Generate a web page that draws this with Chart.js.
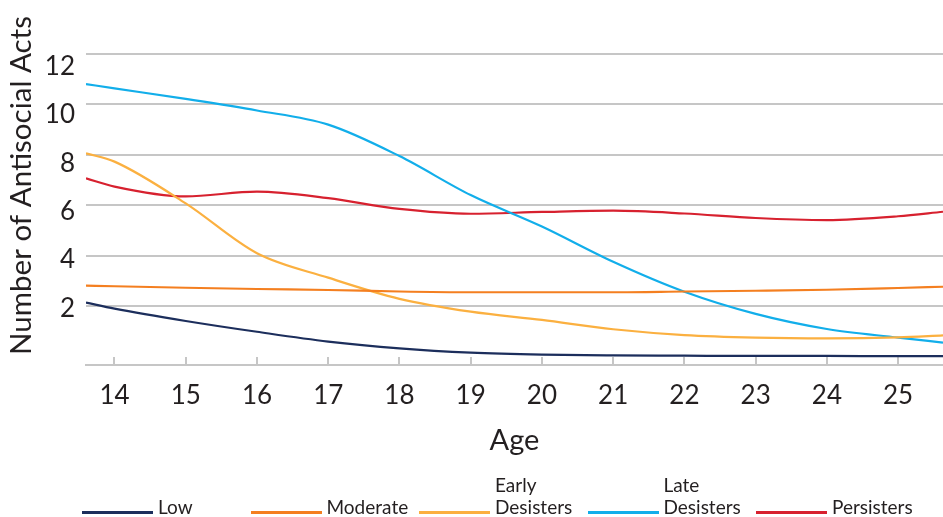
<!DOCTYPE html>
<html>
<head>
<meta charset="utf-8">
<script src="https://cdn.jsdelivr.net/npm/chart.js@4.4.1/dist/chart.umd.min.js"></script>
<style>
  html, body { margin: 0; padding: 0; background: #ffffff; overflow: hidden; }
  #wrap { position: relative; width: 943px; height: 517px; }
  #chart { position: absolute; left: 0; top: 0; }
  .lg-item { position: absolute; bottom: -1px; display: flex; align-items: flex-end; }
  .lg-line { width: 71px; height: 3px; margin-bottom: 4px; flex: none; }
  .lg-text { font-family: Lato, "Noto Sans", sans-serif; font-size: 19px; line-height: 22px; color: #231f20; margin-left: 5px; max-width: 92px; }
</style>
</head>
<body>
<div id="wrap">
  <canvas id="chart" width="943" height="517"></canvas>
  <div id="legend"></div>
</div>
<script>
// ---- data ----
const ages = [13.6, 14, 15, 16, 17, 18, 19, 20, 21, 22, 23, 24, 25, 25.63];
const seriesNames = ['Low', 'Moderate', 'Early Desisters', 'Late Desisters', 'Persisters'];
const lowValues        = [2.13, 1.89, 1.40, 0.97, 0.58, 0.31, 0.14, 0.06, 0.03, 0.02, 0.01, 0.01, 0.00, 0.00];
const moderateValues   = [2.80, 2.78, 2.72, 2.67, 2.63, 2.57, 2.54, 2.54, 2.54, 2.57, 2.60, 2.64, 2.71, 2.76];
const earlyDesValues   = [8.06, 7.73, 6.07, 4.09, 3.12, 2.28, 1.77, 1.44, 1.07, 0.84, 0.74, 0.71, 0.75, 0.83];
const lateDesValues    = [10.81, 10.64, 10.22, 9.76, 9.20, 7.95, 6.40, 5.15, 3.75, 2.56, 1.68, 1.08, 0.74, 0.54];
const persistersValues = [7.07, 6.74, 6.35, 6.54, 6.28, 5.85, 5.66, 5.73, 5.78, 5.67, 5.49, 5.41, 5.56, 5.74];
const xTickLabels = [14, 15, 16, 17, 18, 19, 20, 21, 22, 23, 24, 25];
const yTickLabels = [2, 4, 6, 8, 10, 12];
const xTitle = 'Age';
const yTitle = 'Number of Antisocial Acts';

const seriesValues = [lowValues, moderateValues, earlyDesValues, lateDesValues, persistersValues];
const seriesColors = ['#1c2e5c', '#f47f20', '#fbb040', '#12aeea', '#d7212f'];
const gridColor = '#c6c6c6';
const textColor = '#231f20';
const fontFamily = 'Lato, "Noto Sans", sans-serif';

const datasets = seriesNames.map((name, i) => ({
  label: name,
  data: ages.map((a, j) => ({ x: a, y: seriesValues[i][j] })),
  borderColor: seriesColors[i],
  backgroundColor: seriesColors[i],
  borderWidth: 2.2,
  pointRadius: 0,
  fill: false,
  cubicInterpolationMode: 'monotone'
}));

const innerTicks = {
  id: 'innerTicks',
  beforeDatasetsDraw(chart) {
    const { ctx, chartArea, scales } = chart;
    const x = scales.x;
    ctx.save();
    ctx.strokeStyle = gridColor;
    ctx.lineWidth = 2;
    x.ticks.forEach(t => {
      const px = Math.round(x.getPixelForValue(t.value));
      ctx.beginPath();
      ctx.moveTo(px, chartArea.bottom);
      ctx.lineTo(px, chartArea.bottom - 8);
      ctx.stroke();
    });
    ctx.restore();
  }
};

const noPadV = s => { s.paddingTop = 0; s.paddingBottom = 0; };
const noPadH = s => { s.paddingLeft = 0; s.paddingRight = 0; };

const chart = new Chart(document.getElementById('chart'), {
  type: 'line',
  data: { datasets },
  plugins: [innerTicks],
  options: {
    responsive: false,
    animation: false,
    events: [],
    layout: { padding: { top: 6, bottom: 52, left: 0, right: 0 } },
    plugins: { legend: { display: false }, tooltip: { enabled: false } },
    scales: {
      x: {
        type: 'linear',
        min: 13.6,
        max: 25.63,
        afterBuildTicks: s => { s.ticks = xTickLabels.map(v => ({ value: v })); },
        afterFit: s => { s.height = 100; noPadH(s); },
        grid: { display: false },
        border: { display: true, color: gridColor, width: 2 },
        ticks: {
          color: textColor,
          padding: 7,
          maxRotation: 0,
          autoSkip: false,
          font: { family: fontFamily, size: 26 },
          callback: v => String(v)
        },
        title: {
          display: true,
          text: xTitle,
          color: textColor,
          font: { family: fontFamily, size: 29 },
          padding: { top: 0, bottom: 7 }
        }
      },
      y: {
        type: 'linear',
        position: 'left',
        min: -0.3496,
        max: 13.913,
        afterBuildTicks: s => { s.ticks = yTickLabels.map(v => ({ value: v })); },
        afterFit: s => { s.width = 0; noPadV(s); },
        grid: { color: gridColor, lineWidth: 2, drawTicks: false },
        border: { display: false },
        ticks: { display: false }
      },
      yLabels: {
        type: 'linear',
        position: 'left',
        min: -0.3347,
        max: 14.50,
        afterBuildTicks: s => { s.ticks = yTickLabels.map(v => ({ value: v })); },
        afterFit: s => { s.width = 86; noPadV(s); },
        grid: { display: false, drawTicks: false },
        border: { display: false },
        ticks: {
          color: textColor,
          padding: 11,
          font: { family: fontFamily, size: 26 },
          callback: v => String(v)
        },
        title: {
          display: true,
          text: yTitle,
          color: textColor,
          font: { family: fontFamily, size: 29.5 },
          padding: { top: 4, bottom: 0 }
        }
      }
    }
  }
});

// HTML legend built from the chart's datasets
const legendEl = document.getElementById('legend');
const legendLefts = [82, 250.5, 419, 587.5, 756];
chart.data.datasets.forEach((ds, i) => {
  const item = document.createElement('div');
  item.className = 'lg-item';
  item.style.left = legendLefts[i] + 'px';
  const line = document.createElement('div');
  line.className = 'lg-line';
  line.style.background = ds.borderColor;
  const txt = document.createElement('div');
  txt.className = 'lg-text';
  txt.textContent = ds.label;
  item.appendChild(line);
  item.appendChild(txt);
  legendEl.appendChild(item);
});
</script>
</body>
</html>
